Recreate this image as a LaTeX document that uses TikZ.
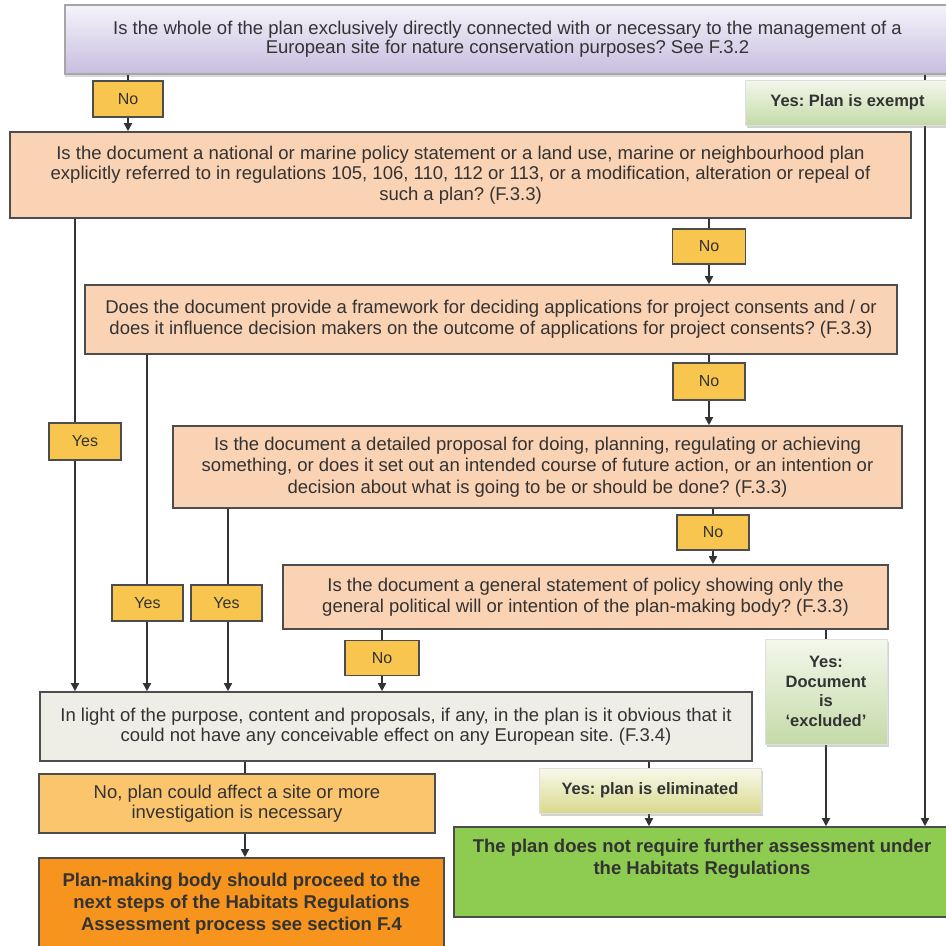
\documentclass[tikz,border=0pt]{standalone}
\usepackage{fontspec}
\setmainfont{Liberation Sans}
\usetikzlibrary{arrows.meta,shadows}
\frenchspacing
\definecolor{peach}{HTML}{FAD2B4}
\definecolor{gold}{HTML}{F8C64E}
\definecolor{lavtop}{HTML}{F5F3FA}
\definecolor{lavbot}{HTML}{C7BDDF}
\definecolor{beige}{HTML}{EEEDE6}
\definecolor{ltorange}{HTML}{FBC56E}
\definecolor{orangebox}{HTML}{F7941D}
\definecolor{grass}{HTML}{8DCC50}
\definecolor{mintop}{HTML}{F4F7EC}
\definecolor{minbot}{HTML}{C4DBA8}
\definecolor{ink}{HTML}{333333}
\definecolor{edge}{HTML}{4D4D4D}
\begin{document}
\begin{tikzpicture}[x=1pt,y=-1pt,
  every node/.style={text=ink},
  qbox/.style={draw=edge, line width=1.6pt, fill=peach, align=center, inner sep=0pt, font=\fontsize{18.5}{20.5}\selectfont},
  tag/.style={draw=edge, line width=1.6pt, fill=gold, inner sep=0pt, font=\fontsize{16}{18}\selectfont},
  okbox/.style={draw=white!75!gray, line width=0.8pt, top color=mintop, bottom color=minbot, align=center, inner sep=0pt,
    drop shadow={opacity=0.35, shadow xshift=2pt, shadow yshift=-3pt}, font=\bfseries\fontsize{16.5}{19.7}\selectfont},
  arr/.style={-{Triangle[length=8pt,width=8pt]}, line width=1.6pt, draw=ink},
  ln/.style={line width=1.6pt, draw=ink}]
\clip (0,0) rectangle (946,946);
\fill[white] (0,0) rectangle (946,946);
% question boxes
\node[qbox, draw=gray!70, top color=lavtop, bottom color=lavbot, drop shadow={opacity=0.3, shadow xshift=0pt, shadow yshift=-3pt}, minimum width=885pt, minimum height=69pt, font=\fontsize{18.5}{19}\selectfont] (q1) at (507.5,39.5) {Is the whole of the plan exclusively directly connected with or necessary to the management of a\\European site for nature conservation purposes? See F.3.2};
\node[qbox, minimum width=901pt, minimum height=86pt] (q2) at (460.5,175) {Is the document a national or marine policy statement or a land use, marine or neighbourhood plan\\explicitly referred to in regulations 105, 106, 110, 112 or 113, or a modification, alteration or repeal of\\such a plan? (F.3.3)};
\node[qbox, minimum width=812pt, minimum height=69pt, font=\fontsize{18.5}{21}\selectfont] (q3) at (491,319.5) {Does the document provide a framework for deciding applications for project consents and / or\\does it influence decision makers on the outcome of applications for project consents? (F.3.3)};
\node[qbox, minimum width=729pt, minimum height=82pt, font=\fontsize{18.5}{21.5}\selectfont] (q4) at (537.5,467) {Is the document a detailed proposal for doing, planning, regulating or achieving\\something, or does it set out an intended course of future action, or an intention or\\decision about what is going to be or should be done? (F.3.3)};
\node[qbox, minimum width=605pt, minimum height=64pt] (q5) at (585.5,597) {Is the document a general statement of policy showing only the\\general political will or intention of the plan-making body? (F.3.3)};
\node[qbox, fill=beige, minimum width=712pt, minimum height=69pt] (q6) at (396,726.5) {In light of the purpose, content and proposals, if any, in the plan is it obvious that it\\could not have any conceivable effect on any European site. (F.3.4)};
% outcomes
\node[qbox, fill=ltorange, minimum width=396pt, minimum height=59pt] (affect) at (237,803.5) {No, plan could affect a site or more\\investigation is necessary};
\node[qbox, fill=orangebox, minimum width=405pt, minimum height=92pt, font=\bfseries\fontsize{18.5}{22}\selectfont] (proceed) at (241.5,904) {Plan-making body should proceed to the\\next steps of the Habitats Regulations\\Assessment process see section F.4};
\node[qbox, fill=grass, minimum width=496pt, minimum height=90pt, font=\bfseries\fontsize{18.5}{22}\selectfont] (noreq) at (702,872) {The plan does not require further assessment under\\the Habitats Regulations\rule[-30pt]{0pt}{30pt}};
% connector columns
\coordinate (cA) at (75,0);
\coordinate (cB) at (147,0);
\coordinate (cC) at (228,0);
\coordinate (cD) at (245,0);
\coordinate (cR) at (925,0);
\coordinate (cE) at (826,0);
\coordinate (cL) at (649,0);
% No path
\draw[ln] (q1.south -| 128,0) -- (128,99);
\draw[arr] (128,99) -- (q2.north -| 128,0);
\draw[ln] (q2.south -| 709,0) -- (709,246);
\draw[arr] (709,246) -- (q3.north -| 709,0);
\draw[ln] (q3.south -| 709,0) -- (709,381);
\draw[arr] (709,381) -- (q4.north -| 709,0);
\draw[ln] (q4.south -| 713,0) -- (713,532);
\draw[arr] (713,532) -- (q5.north -| 713,0);
\draw[arr] (q5.south -| 382,0) -- (q6.north -| 382,0);
% Yes paths
\draw[arr] (q2.south -| cA) -- (q6.north -| cA);
\draw[arr] (q3.south -| cB) -- (q6.north -| cB);
\draw[arr] (q4.south -| cC) -- (q6.north -| cC);
\draw[arr] (q1.south -| cR) -- (noreq.north -| cR);
\draw[arr] (q5.south -| cE) -- (noreq.north -| cE);
\draw[arr] (q6.south -| cL) -- (noreq.north -| cL);
\draw[ln] (q6.south -| cD) -- (affect.north -| cD);
\draw[arr] (affect.south -| cD) -- (proceed.north -| cD);
% labels
\node[tag, minimum width=70pt, minimum height=36pt] (no1) at (128,99) {No};
\node[tag, minimum width=73pt, minimum height=35pt] (no2) at (709,246.5) {No};
\node[tag, minimum width=72pt, minimum height=37pt] (no3) at (709,381.5) {No};
\node[tag, minimum width=72pt, minimum height=35pt] (no4) at (713,532.5) {No};
\node[tag, minimum width=74pt, minimum height=35pt] (no5) at (382,658) {No};
\node[tag, minimum width=72pt, minimum height=37pt] (yes1) at (85,441.5) {Yes};
\node[tag, minimum width=71pt, minimum height=36pt] (yes2) at (147.5,603) {Yes};
\node[tag, minimum width=71pt, minimum height=36pt] (yes3) at (226.5,603) {Yes};
\node[okbox, minimum width=205pt, minimum height=45pt] (exempt) at (847.5,102.5) {Yes: Plan is exempt};
\node[okbox, minimum width=122pt, minimum height=105pt] (excl) at (826,691.5) {Yes:\\Document\\is\\‘excluded’};
\node[okbox, top color=white!95!olive, bottom color=olive!30!white, minimum width=222pt, minimum height=45pt] (elim) at (650,790.5) {Yes: plan is eliminated};
\end{tikzpicture}
\end{document}
